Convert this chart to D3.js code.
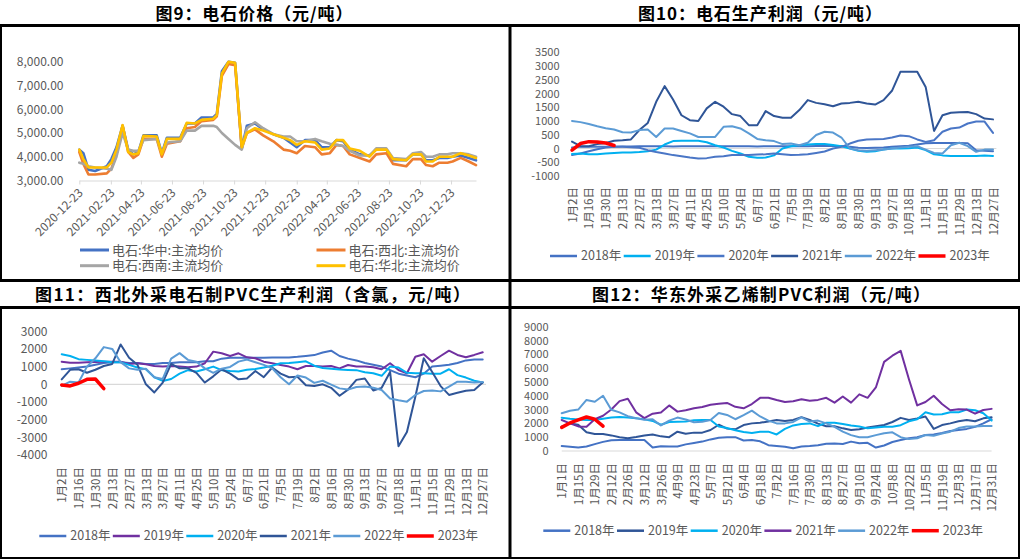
<!DOCTYPE html>
<html><head><meta charset="utf-8">
<script src="https://cdn.jsdelivr.net/npm/d3@7"></script>
<style>
body{margin:0;background:#fff;}
svg{display:block;font-family:"Noto Sans CJK SC","Noto Sans",sans-serif;}
</style></head><body>
<script>
// ---------------- DATA ----------------
// Figure 9: calcium carbide prices (yuan/ton)
const p1Dates = ["2020-12-23","2020-12-31","2021-01-10","2021-01-23","2021-02-15","2021-02-24","2021-03-06","2021-03-18","2021-03-29","2021-04-08","2021-04-18","2021-04-28","2021-05-24","2021-06-03","2021-06-13","2021-07-09","2021-07-22","2021-08-07","2021-08-20","2021-09-12","2021-09-19","2021-09-29","2021-10-12","2021-10-25","2021-11-07","2021-11-17","2021-12-03","2021-12-19","2022-01-08","2022-01-28","2022-02-10","2022-02-23","2022-03-11","2022-03-31","2022-04-13","2022-04-29","2022-05-12","2022-05-25","2022-06-07","2022-06-27","2022-07-16","2022-07-29","2022-08-18","2022-08-31","2022-09-26","2022-10-09","2022-10-25","2022-11-04","2022-11-17","2022-11-30","2022-12-16","2022-12-26","2023-01-11","2023-01-27","2023-02-10"];
const p1Central   = [4300,4150,3450,3400,3600,3900,4400,5300,4300,4100,4200,4900,4900,4150,4800,4800,5400,5400,5650,5650,5800,7600,8000,7950,4350,5300,5400,5150,4950,4800,4600,4400,4700,4700,4400,4400,4700,4650,4300,4100,4050,4300,4300,3850,3850,4100,4100,3850,3850,3950,3950,4000,4050,3950,3850];
const p1Northwest = [4200,3700,3250,3250,3300,3500,4100,5300,4200,3950,4100,4750,4750,4000,4550,4650,5200,5250,5500,5550,5700,7400,7900,7850,4350,5000,5150,4900,4650,4300,4250,4150,4450,4400,4100,4150,4500,4450,4100,3950,3800,4100,4150,3700,3600,3900,3900,3650,3600,3750,3750,3800,3950,3800,3650];
const p1Southwest = [3750,3700,3600,3550,3500,3450,4000,5000,4300,4250,4250,4700,4750,4150,4600,4650,5100,5100,5300,5300,5250,5000,4750,4500,4300,5200,5450,5200,4950,4850,4850,4650,4650,4750,4650,4550,4500,4450,4250,4050,4050,4350,4350,3950,3900,4150,4200,4000,4000,4100,4100,4150,4150,4100,4000];
const p1North     = [4300,3900,3550,3550,3550,3750,4300,5330,4200,4100,4150,4880,4850,4100,4750,4750,5430,5400,5550,5600,5750,7500,8000,7950,4400,5000,5200,5100,4950,4800,4700,4500,4650,4600,4300,4350,4700,4700,4350,4250,4000,4300,4300,3900,3850,4100,4100,3800,3800,4000,4000,4000,4150,4050,3950];
const p1TickDates = ["2020-12-23","2021-02-23","2021-04-23","2021-06-23","2021-08-23","2021-10-23","2021-12-23","2022-02-23","2022-04-23","2022-06-23","2022-08-23","2022-10-23","2022-12-23"];
const p1YTicks = [3000,4000,5000,6000,7000,8000];
const p1Names = ["电石:华中:主流均价","电石:西北:主流均价","电石:西南:主流均价","电石:华北:主流均价"];

// Trading-day category labels (every 10th trading day) used by Fig.10 and Fig.11
const tradeDayLabels = ["1月2日","1月16日","1月30日","2月13日","2月27日","3月13日","3月27日","4月11日","4月25日","5月10日","5月24日","6月7日","6月21日","7月5日","7月19日","8月2日","8月16日","8月30日","9月13日","9月27日","10月18日","11月1日","11月15日","11月29日","12月13日","12月27日"];
// Calendar-day category labels (every 14th day) used by Fig.12
const calDayLabels = ["1月1日","1月15日","1月29日","2月12日","2月26日","3月12日","3月26日","4月9日","4月23日","5月7日","5月21日","6月4日","6月18日","7月2日","7月16日","7月30日","8月13日","8月27日","9月10日","9月24日","10月8日","10月22日","11月5日","11月19日","12月3日","12月17日","12月31日"];
const yearNames = ["2018年","2019年","2020年","2021年","2022年","2023年"];

// Figure 10: carbide production profit, sampled every 5 trading days
const p2y2018 = [-240,-180,-100,-25,35,60,70,75,80,80,80,80,75,80,80,80,85,80,80,80,80,80,75,80,80,85,85,85,85,90,90,90,90,60,30,20,30,40,60,80,100,150,190,200,200,200,200,190,-60,-80,-100];
const p2y2019 = [-200,-180,-210,-210,-180,-160,-145,-145,-130,-100,-40,145,270,280,280,280,230,120,35,-85,-180,-300,-340,-330,-250,0,85,120,145,160,160,130,85,0,-85,-120,-100,-40,0,0,10,35,-60,-210,-250,-270,-270,-270,-270,-250,-270];
const p2y2020 = [35,60,60,60,60,60,60,50,25,-60,-130,-180,-240,-280,-330,-360,-350,-300,-280,-240,-240,-240,-220,-210,-180,-210,-240,-230,-210,-160,-110,0,60,180,280,330,340,350,400,470,450,330,240,300,610,730,760,910,980,980,570];
const p2y2021 = [250,85,85,160,200,280,300,330,670,930,1700,2270,1780,1210,1030,1000,1460,1700,1520,1250,1180,850,850,1360,1180,1120,1120,1400,1760,1660,1610,1540,1640,1660,1700,1640,1600,1760,2100,2790,2790,2790,2240,640,1210,1300,1320,1330,1250,1090,1060];
const p2y2022 = [1000,960,890,810,740,690,590,580,670,690,420,730,730,640,550,420,420,420,790,810,730,550,350,300,270,160,180,120,210,490,610,580,400,0,-60,-85,-60,-40,0,35,60,85,-40,-160,-180,120,210,85,-120,-40,-40];
const p2y2023 = [-60,180,250,240,200,110];
const p2YTicks = [-1000,-500,0,500,1000,1500,2000,2500,3000,3500];

// Figure 11: northwest PVC (carbide route) profit, sampled every 5 trading days
const p3y2018 = [850,900,950,1000,1100,1200,1250,1250,1200,1200,1150,1150,1200,1200,1250,1250,1250,1300,1300,1450,1500,1500,1500,1500,1500,1520,1520,1520,1550,1600,1650,1800,1900,1600,1450,1350,1200,1100,1000,800,600,500,400,600,1000,1050,1100,1200,1350,1400,1400];
const p3y2019 = [1280,1220,1220,1240,1260,1280,1280,1280,1150,1190,1130,1035,1000,1035,1000,960,1000,1190,1845,1750,1600,1750,1525,1470,1280,1190,1090,1000,850,1035,1035,1000,1035,900,1090,1000,1000,960,850,1190,810,620,1560,1700,1280,1600,1900,1660,1525,1660,1810];
const p3y2020 = [1700,1600,1420,1380,1340,1300,1240,1250,1100,950,850,400,190,300,600,800,720,850,1000,800,750,720,820,870,950,1050,1190,1200,1250,1300,1050,920,880,830,810,800,680,620,480,1000,950,650,620,620,600,600,850,520,380,200,100];
const p3y2021 = [280,820,850,650,820,1035,1150,2250,1500,1100,0,-460,100,1150,900,900,650,100,450,850,600,280,330,750,400,950,600,400,430,-50,-100,0,-200,-650,-300,250,330,-350,-200,700,-3500,-2700,-700,1470,700,-100,-600,-480,-360,-320,100];
const p3y2022 = [-90,150,100,1000,1470,2100,2000,1250,900,820,880,400,300,1450,1760,1380,1270,900,650,880,980,1280,1400,1250,1100,900,400,0,500,380,80,200,-20,-230,-300,-150,-130,-200,-320,-800,-900,-980,-600,-380,-350,-400,-130,150,150,100,130];
const p3y2023 = [-40,-90,60,280,300,-250];
const p3YTicks = [-4000,-3000,-2000,-1000,0,1000,2000,3000];

// Figure 12: east China PVC (ethylene route) profit, sampled every 7 calendar days
const p4y2018 = [360,300,250,320,500,660,780,800,800,800,800,250,350,330,320,480,580,680,840,960,1000,1000,760,800,700,420,360,300,200,330,360,420,530,550,510,680,560,590,250,400,650,800,920,990,1160,1200,1300,1450,1520,1600,1750,2000,2300];
const p4y2019 = [1760,2000,1900,1350,1230,1230,1130,1000,930,1020,1130,1200,1060,1000,1400,1250,1330,1330,1520,1900,1620,1570,1880,2000,2050,2140,2245,2180,2250,2450,2250,1980,1790,1800,1640,1520,1580,1700,1800,1880,2100,2400,2245,2360,2500,1600,1880,2000,2150,2245,2150,2365,2440];
const p4y2020 = [2415,2340,2280,2250,2250,2340,2430,2460,2420,2380,2290,2180,1900,2100,2125,2140,2220,2245,2245,1780,1660,1500,1380,1300,1400,1400,1200,1600,1850,1960,2000,1800,2050,2050,1950,1850,1780,1640,1700,1760,1760,1870,2150,2300,2800,2640,2660,2800,2800,3000,2950,2730,2200];
const p4y2021 = [2245,2000,1780,1760,2300,2550,3000,3610,3780,2800,2380,2700,2780,3300,2850,2950,3090,3180,3350,3420,3480,3200,3090,3400,3850,3850,3690,3550,3600,3750,3640,3700,3850,3500,3950,3500,4100,3850,4600,6450,6900,7250,5200,3300,3550,4000,3400,2950,3020,3000,2700,2970,3050];
const p4y2022 = [2730,2920,3000,3700,3570,4000,2990,2800,2520,2370,2260,2300,1850,2200,2420,2280,2080,2120,2245,2750,2610,2300,2600,2920,2500,2200,2000,2000,2100,2430,2130,2200,2000,1750,1400,1150,990,990,1150,1290,1350,1000,860,920,1160,1100,1260,1400,1660,1780,1770,1810,1810];
const p4y2023 = [1710,2030,2250,2460,2300,1800];
const p4YTicks = [0,1000,2000,3000,4000,5000,6000,7000,8000,9000];

// ---------------- DRAWING ----------------
const W = 1020, H = 559;
const AXIS_TEXT = "#595959";
const svg = d3.select("body").append("svg").attr("width", W).attr("height", H);

// frames
const frames = [
  [0,24,W,3],[0,279,W,3],[0,306,W,3],[0,557,W,2],
  [508.5,24,3,535],
  [0,24,2,257],[0,306,2,253],[1018,24,2,257],[1018,306,2,253]
];
svg.append("g").selectAll("rect").data(frames).join("rect")
  .attr("x",d=>d[0]).attr("y",d=>d[1]).attr("width",d=>d[2]).attr("height",d=>d[3]).attr("fill","#000");

// titles
const titles = [
  {t:"图9：电石价格（元/吨）", x:254, y:20, len:197},
  {t:"图10：电石生产利润（元/吨）", x:760, y:20, len:244},
  {t:"图11：西北外采电石制PVC生产利润（含氯，元/吨）", x:252.5, y:300.5, len:435},
  {t:"图12：华东外采乙烯制PVC利润（元/吨）", x:761, y:300.5, len:338}
];
svg.append("g").selectAll("text").data(titles).join("text")
  .attr("x",d=>d.x).attr("y",d=>d.y).attr("text-anchor","middle")
  .attr("font-size",17).attr("font-weight","bold").attr("fill","#000")
  .attr("textLength",d=>d.len).attr("lengthAdjust","spacing")
  .text(d=>d.t);

// ---------- Panel 1 ----------
(function(){
  const parse = d3.timeParse("%Y-%m-%d");
  const x = d3.scaleTime().domain([parse("2020-12-23"), parse("2023-02-10")]).range([79.3, 476]);
  const y = d3.scaleLinear().domain([3000, 8000]).range([180.5, 61.7]);
  const g = svg.append("g");
  const xa = g.append("g").attr("transform","translate(0,180.5)")
    .call(d3.axisBottom(x).tickValues(p1TickDates.map(parse)).tickFormat(d3.timeFormat("%Y-%m-%d")).tickSize(4).tickSizeOuter(0));
  xa.attr("font-family",null).attr("font-size",null);
  xa.select(".domain").attr("stroke","#D9D9D9");
  xa.selectAll(".tick line").attr("stroke","#D9D9D9");
  xa.selectAll("text").attr("x",0).attr("y",0).attr("dy","0.35em")
    .attr("transform","translate(1,10) rotate(-45)").attr("text-anchor","end")
    .attr("fill",AXIS_TEXT).style("font-size","12px");
  const ya = g.append("g").attr("transform","translate(63.5,0)")
    .call(d3.axisLeft(y).tickValues(p1YTicks).tickFormat(d3.format(",.2f")).tickSize(0).tickPadding(0));
  ya.attr("font-family",null).attr("font-size",null);
  ya.select(".domain").remove();
  ya.selectAll("text").attr("fill",AXIS_TEXT).style("font-size","12px");
  const series = [
    {v:p1Central, c:"#4472C4"},
    {v:p1Northwest, c:"#ED7D31"},
    {v:p1Southwest, c:"#A5A5A5"},
    {v:p1North, c:"#FFC000"}
  ];
  const line = d3.line().x((d,i)=>x(parse(p1Dates[i]))).y(d=>y(d));
  g.selectAll("path.s").data(series).join("path").attr("class","s")
    .attr("d",d=>line(d.v)).attr("fill","none").attr("stroke",d=>d.c)
    .attr("stroke-width",2.6).attr("stroke-linejoin","round").attr("stroke-linecap","round");
  const leg = [
    {x:80, y:250, i:0},{x:316.5, y:250, i:1},{x:80, y:265.7, i:2},{x:316.5, y:265.7, i:3}
  ];
  const lg = g.selectAll("g.leg").data(leg).join("g").attr("class","leg")
    .attr("transform",d=>`translate(${d.x},${d.y})`);
  lg.append("line").attr("x1",0).attr("x2",29).attr("stroke",d=>series[d.i].c).attr("stroke-width",3);
  lg.append("text").attr("x",32).attr("dy","0.35em").attr("fill",AXIS_TEXT).style("font-size","13px")
    .text(d=>p1Names[d.i]);
})();

// ---------- Year-comparison panels ----------
function yearPanel(o){
  const x = d3.scaleLinear().domain(o.xDomain).range(o.xRange);
  const y = d3.scaleLinear().domain(o.yDomain).range(o.yRange);
  const g = svg.append("g");
  g.append("line").attr("x1",x(0)).attr("x2",x(o.xEnd)).attr("y1",y(0)).attr("y2",y(0))
    .attr("stroke","#D9D9D9").attr("stroke-width",1.2);
  const ya = g.append("g").attr("transform",`translate(${o.yLabelX},0)`)
    .call(d3.axisLeft(y).tickValues(o.yTicks).tickFormat(d=>String(d)).tickSize(0).tickPadding(0));
  ya.attr("font-family",null).attr("font-size",null);
  ya.select(".domain").remove();
  ya.selectAll("text").attr("fill",AXIS_TEXT).style("font-size",o.yFont||"12px");
  const xa = g.append("g").attr("transform",`translate(0,${o.xLabelY})`)
    .call(d3.axisBottom(x).tickValues(o.labels.map((d,i)=>i*o.labelStep)).tickFormat((d,i)=>o.labels[i]).tickSize(0).tickPadding(0));
  xa.attr("font-family",null).attr("font-size",null);
  xa.select(".domain").remove();
  xa.selectAll("text").attr("x",0).attr("y",0).attr("dy","0.36em")
    .attr("transform","rotate(-90)").attr("text-anchor","end")
    .attr("fill",AXIS_TEXT).style("font-size","11.5px");
  const line = d3.line().x((d,i)=>x(i*o.step)).y(d=>y(d));
  o.series.forEach((s)=>{
    g.append("path").attr("d",line(s.v)).attr("fill","none").attr("stroke",s.c)
      .attr("stroke-width",s.w||2).attr("stroke-linejoin","round").attr("stroke-linecap","round");
  });
  const lg = g.selectAll("g.leg").data(o.series).join("g").attr("class","leg")
    .attr("transform",(d,i)=>`translate(${o.legX + i*o.legDx},${o.legY})`);
  lg.append("line").attr("x1",0).attr("x2",27).attr("stroke",d=>d.c).attr("stroke-width",d=>d.w?3.5:2.5);
  lg.append("text").attr("x",31).attr("dy","0.35em").attr("fill",AXIS_TEXT).style("font-size","12.5px")
    .text((d,i)=>yearNames[i]);
}

yearPanel({
  xDomain:[0,250], xRange:[572,993], xEnd:252, step:5, labels:tradeDayLabels, labelStep:10,
  yDomain:[-1000,3500], yRange:[176,52.3], yTicks:p2YTicks, yLabelX:559.5, xLabelY:187, yFont:"11px",
  legX:550, legDx:73.7, legY:256,
  series:[
    {v:p2y2018, c:"#4472C4"},
    {v:p2y2019, c:"#00B0F0"},
    {v:p2y2020, c:"#4A76C6"},
    {v:p2y2021, c:"#2F5597"},
    {v:p2y2022, c:"#5B9BD5"},
    {v:p2y2023, c:"#FF0000", w:3.5}
  ]
});

yearPanel({
  xDomain:[0,250], xRange:[61.7,482.7], xEnd:252, step:5, labels:tradeDayLabels, labelStep:10,
  yDomain:[-4000,3000], yRange:[455.1,331.2], yTicks:p3YTicks, yLabelX:47.5, xLabelY:467,
  legX:39.3, legDx:73.5, legY:536,
  series:[
    {v:p3y2018, c:"#4472C4"},
    {v:p3y2019, c:"#7030A0"},
    {v:p3y2020, c:"#00B0F0"},
    {v:p3y2021, c:"#2F5597"},
    {v:p3y2022, c:"#5B9BD5"},
    {v:p3y2023, c:"#FF0000", w:3.5}
  ]
});

yearPanel({
  xDomain:[0,364], xRange:[561.7,991.6], xEnd:364, step:7, labels:calDayLabels, labelStep:14,
  yDomain:[0,9000], yRange:[451,326.7], yTicks:p4YTicks, yLabelX:548.5, xLabelY:463, yFont:"11px",
  legX:543.3, legDx:73.7, legY:530.7,
  series:[
    {v:p4y2018, c:"#4472C4"},
    {v:p4y2019, c:"#2F5597"},
    {v:p4y2020, c:"#00B0F0"},
    {v:p4y2021, c:"#7030A0"},
    {v:p4y2022, c:"#5B9BD5"},
    {v:p4y2023, c:"#FF0000", w:3.5}
  ]
});
</script>
</body></html>
